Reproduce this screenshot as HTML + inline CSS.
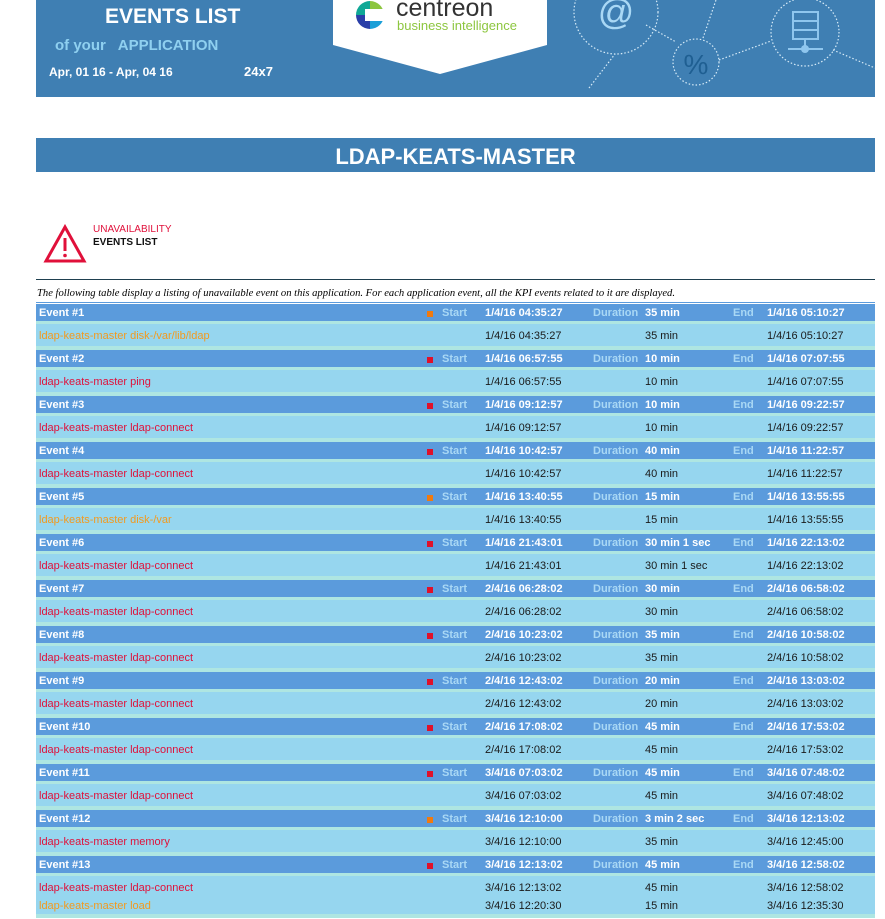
<!DOCTYPE html>
<html><head><meta charset="utf-8"><style>
body{margin:0;width:885px;height:919px;background:#fff;position:relative;overflow:hidden;font-family:"Liberation Sans",sans-serif}
.a{position:absolute;white-space:nowrap}
.hd{position:absolute;left:36px;width:839px;height:17px;background:#5b9bdc}
.st{position:absolute;left:36px;width:839px;background:#aee6e2}
.dt{position:absolute;left:36px;width:839px;background:#96d6ef}
.t{position:absolute;font-size:11px;font-weight:bold;white-space:nowrap;line-height:13px}
.w{color:#fff}.l{color:#a9d8f5}.k{color:#1a1a1a;font-weight:normal}
.r{color:#e0103a;font-weight:normal}.o{color:#f39a1e;font-weight:normal}
.sq{position:absolute;width:6px;height:6px}
</style></head><body>
<div class="a" style="left:36px;top:0;width:839px;height:97px;background:#3f7fb3"></div>
<svg class="a" style="left:36px;top:0" width="839" height="97">
<g fill="none" stroke="#d8ecf8" stroke-width="1.2" stroke-dasharray="1.5 2">
<circle cx="580" cy="12" r="42"/><circle cx="660" cy="62" r="23"/><circle cx="769" cy="32" r="34"/>
<line x1="553" y1="88" x2="579" y2="54"/><line x1="610" y1="25" x2="640" y2="42"/><line x1="667" y1="38" x2="680" y2="0"/>
<line x1="683" y1="60" x2="735" y2="41"/><line x1="797" y1="50" x2="839" y2="68"/></g>
<text x="580" y="24" font-size="36" fill="#a9d8f5" text-anchor="middle" font-family="Liberation Sans">@</text>
<text x="660" y="74" font-size="28" fill="#1f5f92" text-anchor="middle" font-family="Liberation Sans">%</text>
<g fill="none" stroke="#8fc6ee" stroke-width="2"><rect x="757" y="12" width="25" height="27"/><line x1="757" y1="21" x2="782" y2="21"/><line x1="757" y1="30" x2="782" y2="30"/><line x1="769" y1="39" x2="769" y2="48"/><line x1="752" y1="49" x2="787" y2="49"/></g>
<circle cx="769" cy="49" r="4" fill="#8fc6ee"/>
<polygon points="297,0 511,0 511,45 404,74 297,45" fill="#fff"/>
</svg>
<div class="a" style="left:356px;top:1px;width:28px;height:28px;border-radius:50%;background:conic-gradient(#8dc63f 0 90deg,#1a9fd8 90deg 180deg,#2a3fa8 180deg 270deg,#10a896 270deg)"></div>
<div class="a" style="left:365px;top:9px;width:20px;height:12px;background:#fff"></div>
<div class="a" style="left:396px;top:-6px;font-size:25px;color:#333">centreon</div>
<div class="a" style="left:397px;top:18px;font-size:13px;color:#8dc63f">business intelligence</div>
<div class="a" style="left:105px;top:5px;font-size:21px;font-weight:bold;color:#fff">EVENTS LIST</div>
<div class="a" style="left:55px;top:37px;font-size:15px;font-weight:bold;color:#8fd0f0">of your &nbsp; APPLICATION</div>
<div class="a" style="left:49px;top:65px;font-size:12px;font-weight:bold;color:#fff">Apr, 01 16 - Apr, 04 16</div>
<div class="a" style="left:244px;top:64px;font-size:13px;font-weight:bold;color:#fff">24x7</div>
<div class="a" style="left:36px;top:138px;width:839px;height:34px;background:#3f7fb3;color:#fff;font-size:22px;font-weight:bold;text-align:center;line-height:38px">LDAP-KEATS-MASTER</div>
<svg class="a" style="left:43px;top:224px" width="44" height="40"><polygon points="22,3 41,37 3,37" fill="none" stroke="#e0103a" stroke-width="3" stroke-linejoin="miter"/><rect x="20.5" y="14" width="3" height="13" fill="#e0103a"/><circle cx="22" cy="31.5" r="1.8" fill="#e0103a"/></svg>
<div class="a" style="left:93px;top:224px;font-size:10px;color:#e0103a">UNAVAILABILITY</div>
<div class="a" style="left:93px;top:237px;font-size:10px;font-weight:bold;color:#111">EVENTS LIST</div>
<div class="a" style="left:36px;top:279px;width:839px;height:1px;background:#1f4050"></div>
<div class="a" style="left:37px;top:288px;font-size:10.6px;font-style:italic;font-family:'Liberation Serif',serif;color:#000">The following table display a listing of unavailable event on this application. For each application event, all the KPI events related to it are displayed.</div>
<div class="a" style="left:36px;top:302px;width:839px;height:1px;background:#5b9bdc"></div>
<div id="rows"></div>
<script>
var ev=[["o","1/4/16 04:35:27","35 min","1/4/16 05:10:27",[["o","ldap-keats-master disk-/var/lib/ldap","1/4/16 04:35:27","35 min","1/4/16 05:10:27"]]],
["r","1/4/16 06:57:55","10 min","1/4/16 07:07:55",[["r","ldap-keats-master ping","1/4/16 06:57:55","10 min","1/4/16 07:07:55"]]],
["r","1/4/16 09:12:57","10 min","1/4/16 09:22:57",[["r","ldap-keats-master ldap-connect","1/4/16 09:12:57","10 min","1/4/16 09:22:57"]]],
["r","1/4/16 10:42:57","40 min","1/4/16 11:22:57",[["r","ldap-keats-master ldap-connect","1/4/16 10:42:57","40 min","1/4/16 11:22:57"]]],
["o","1/4/16 13:40:55","15 min","1/4/16 13:55:55",[["o","ldap-keats-master disk-/var","1/4/16 13:40:55","15 min","1/4/16 13:55:55"]]],
["r","1/4/16 21:43:01","30 min 1 sec","1/4/16 22:13:02",[["r","ldap-keats-master ldap-connect","1/4/16 21:43:01","30 min 1 sec","1/4/16 22:13:02"]]],
["r","2/4/16 06:28:02","30 min","2/4/16 06:58:02",[["r","ldap-keats-master ldap-connect","2/4/16 06:28:02","30 min","2/4/16 06:58:02"]]],
["r","2/4/16 10:23:02","35 min","2/4/16 10:58:02",[["r","ldap-keats-master ldap-connect","2/4/16 10:23:02","35 min","2/4/16 10:58:02"]]],
["r","2/4/16 12:43:02","20 min","2/4/16 13:03:02",[["r","ldap-keats-master ldap-connect","2/4/16 12:43:02","20 min","2/4/16 13:03:02"]]],
["r","2/4/16 17:08:02","45 min","2/4/16 17:53:02",[["r","ldap-keats-master ldap-connect","2/4/16 17:08:02","45 min","2/4/16 17:53:02"]]],
["r","3/4/16 07:03:02","45 min","3/4/16 07:48:02",[["r","ldap-keats-master ldap-connect","3/4/16 07:03:02","45 min","3/4/16 07:48:02"]]],
["o","3/4/16 12:10:00","3 min 2 sec","3/4/16 12:13:02",[["r","ldap-keats-master memory","3/4/16 12:10:00","35 min","3/4/16 12:45:00"]]],
["r","3/4/16 12:13:02","45 min","3/4/16 12:58:02",[["r","ldap-keats-master ldap-connect","3/4/16 12:13:02","45 min","3/4/16 12:58:02"],["o","ldap-keats-master load","3/4/16 12:20:30","15 min","3/4/16 12:35:30"]]]];
var h="",y=304;
ev.forEach(function(e,i){
var hy=y+3;
h+='<div class="hd" style="top:'+y+'px"></div>';
h+='<div class="t w" style="left:39px;top:'+hy+'px">Event #'+(i+1)+'</div>';
h+='<div class="sq" style="left:427px;top:'+(y+7)+'px;background:'+(e[0]=="o"?"#f07a10":"#e0102a")+'"></div>';
h+='<div class="t l" style="left:442px;top:'+hy+'px">Start</div><div class="t w" style="left:485px;top:'+hy+'px">'+e[1]+'</div>';
h+='<div class="t l" style="left:593px;top:'+hy+'px">Duration</div><div class="t w" style="left:645px;top:'+hy+'px">'+e[2]+'</div>';
h+='<div class="t l" style="left:733px;top:'+hy+'px">End</div><div class="t w" style="left:767px;top:'+hy+'px">'+e[3]+'</div>';
y+=17;h+='<div class="st" style="top:'+y+'px;height:3px"></div>';y+=3;
var dh=e[4].length==1?22:38;
h+='<div class="dt" style="top:'+y+'px;height:'+dh+'px"></div>';
e[4].forEach(function(d,j){var ty=y+6+j*18;
h+='<div class="t '+d[0]+'" style="left:39px;top:'+ty+'px">'+d[1]+'</div>';
h+='<div class="t k" style="left:485px;top:'+ty+'px">'+d[2]+'</div><div class="t k" style="left:645px;top:'+ty+'px">'+d[3]+'</div><div class="t k" style="left:767px;top:'+ty+'px">'+d[4]+'</div>';});
y+=dh;h+='<div class="st" style="top:'+y+'px;height:4px"></div>';y+=4;});
document.getElementById("rows").innerHTML=h;
</script>
</body></html>
